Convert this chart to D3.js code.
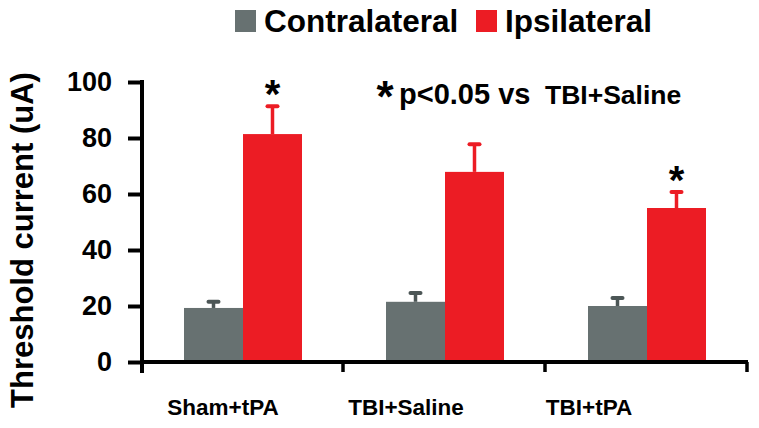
<!DOCTYPE html>
<html>
<head>
<meta charset="utf-8">
<script src="https://cdn.jsdelivr.net/npm/d3@7"></script>
<style>
  html, body { margin: 0; padding: 0; background: #fff; }
  svg { display: block; font-family: "Liberation Sans", Arial, sans-serif; font-weight: bold; }
</style>
</head>
<body>
<svg id="chart" width="759" height="428"></svg>
<script>
// ---- data ----
const categories = ["Sham+tPA", "TBI+Saline", "TBI+tPA"];
const seriesNames = ["Contralateral", "Ipsilateral"];
const contralateral = [19.3, 21.5, 20.0];
const contralateralErr = [2.6, 3.5, 3.2];
const ipsilateral = [81.4, 67.9, 55.0];
const ipsilateralErr = [10.3, 10.2, 6.1];
const significant = [true, false, true];
const yTicks = [0, 20, 40, 60, 80, 100];
const yTitle = "Threshold current (uA)";
const noteStar = "*";
const noteMain = "p<0.05 vs";
const noteRef = "TBI+Saline";

// ---- style ----
const colors = { Contralateral: "#677171", Ipsilateral: "#ec1c24" };
const errColors = { Contralateral: "#4c5656", Ipsilateral: "#ec1c24" };

const svg = d3.select("#chart");
const x = d3.scaleBand().domain(categories).range([142, 748]).paddingInner(0).paddingOuter(0);
const xs = d3.scaleBand().domain(seriesNames).range([0, x.bandwidth()]).paddingInner(0).paddingOuter(0.712);
const xLabel = d3.scalePoint().domain(categories).range([223, 589]);
const y = d3.scaleLinear().domain([0, 100]).range([362, 82]);

const rows = categories.map((c, i) => ({
  cat: c,
  vals: [
    { s: "Contralateral", v: contralateral[i], e: contralateralErr[i] },
    { s: "Ipsilateral", v: ipsilateral[i], e: ipsilateralErr[i] }
  ],
  sig: significant[i]
}));

// bars
const g = svg.append("g");
const grp = g.selectAll("g.grp").data(rows).join("g")
  .attr("transform", d => `translate(${x(d.cat)},0)`);
grp.selectAll("rect.bar").data(d => d.vals).join("rect")
  .attr("x", d => xs(d.s))
  .attr("width", xs.bandwidth())
  .attr("y", d => y(d.v))
  .attr("height", d => y(0) - y(d.v))
  .attr("fill", d => colors[d.s]);
// error bars
grp.selectAll("line.err").data(d => d.vals).join("line")
  .attr("x1", d => xs(d.s) + xs.bandwidth() / 2)
  .attr("x2", d => xs(d.s) + xs.bandwidth() / 2)
  .attr("y1", d => y(d.v))
  .attr("y2", d => y(d.v + d.e))
  .attr("stroke", d => errColors[d.s]).attr("stroke-width", 3.5);
grp.selectAll("line.cap").data(d => d.vals).join("line")
  .attr("x1", d => xs(d.s) + xs.bandwidth() / 2 - 5)
  .attr("x2", d => xs(d.s) + xs.bandwidth() / 2 + 5)
  .attr("y1", d => y(d.v + d.e) + 1)
  .attr("y2", d => y(d.v + d.e) + 1)
  .attr("stroke", d => errColors[d.s]).attr("stroke-width", 4).attr("stroke-linecap", "round");

// significance stars
grp.filter(d => d.sig).append("text")
  .attr("x", xs("Ipsilateral") + xs.bandwidth() / 2)
  .attr("y", d => y(d.vals[1].v + d.vals[1].e) + 3)
  .attr("text-anchor", "middle")
  .attr("font-size", 40)
  .text("*");

// x axis
svg.append("line").attr("x1", x.range()[0] - 2).attr("x2", x.range()[1])
  .attr("y1", y(0)).attr("y2", y(0)).attr("stroke", "#000").attr("stroke-width", 4);
svg.selectAll("line.xt").data(categories).join("line")
  .attr("x1", d => x(d) + x.bandwidth() - 1).attr("x2", d => x(d) + x.bandwidth() - 1)
  .attr("y1", y(0)).attr("y2", y(0) + 10)
  .attr("stroke", "#000").attr("stroke-width", 3.5);
svg.selectAll("text.xl").data(categories).join("text")
  .attr("x", d => xLabel(d)).attr("y", 415)
  .attr("text-anchor", "middle").attr("font-size", 22.5)
  .text(d => d);

// y axis
const yAxis = d3.axisLeft(y).tickValues(yTicks).tickSize(14).tickSizeOuter(0).tickPadding(16);
const ya = svg.append("g").attr("transform", `translate(${x.range()[0]},0)`).call(yAxis);
ya.select(".domain").remove();
ya.selectAll(".tick line").attr("stroke", "#000").attr("stroke-width", 4);
ya.selectAll(".tick text").attr("font-size", 27).attr("font-weight", "bold")
  .attr("font-family", "Liberation Sans, Arial, sans-serif").attr("fill", "#000");
svg.append("line").attr("x1", x.range()[0]).attr("x2", x.range()[0])
  .attr("y1", y(100) - 2).attr("y2", y(0) + 11)
  .attr("stroke", "#000").attr("stroke-width", 4);

svg.append("text")
  .attr("transform", `translate(33,${(68 + 412) / 2}) rotate(-90)`)
  .attr("text-anchor", "middle").attr("font-size", 31)
  .text(yTitle);

// legend
const legendX = [235, 476];
const leg = svg.selectAll("g.leg").data(seriesNames).join("g")
  .attr("transform", (d, i) => `translate(${legendX[i]},10)`);
leg.append("rect").attr("width", 21).attr("height", 22).attr("fill", d => colors[d]);
leg.append("text").attr("x", 29).attr("y", 21.5).attr("font-size", 31.5).text(d => d);

// note
svg.append("text").attr("x", 385).attr("y", 112).attr("text-anchor", "middle")
  .attr("font-size", 44).text(noteStar);
svg.append("text").attr("x", 399).attr("y", 104).attr("font-size", 29).text(noteMain);
svg.append("text").attr("x", 545).attr("y", 104).attr("font-size", 26.5).text(noteRef);
</script>
</body>
</html>
